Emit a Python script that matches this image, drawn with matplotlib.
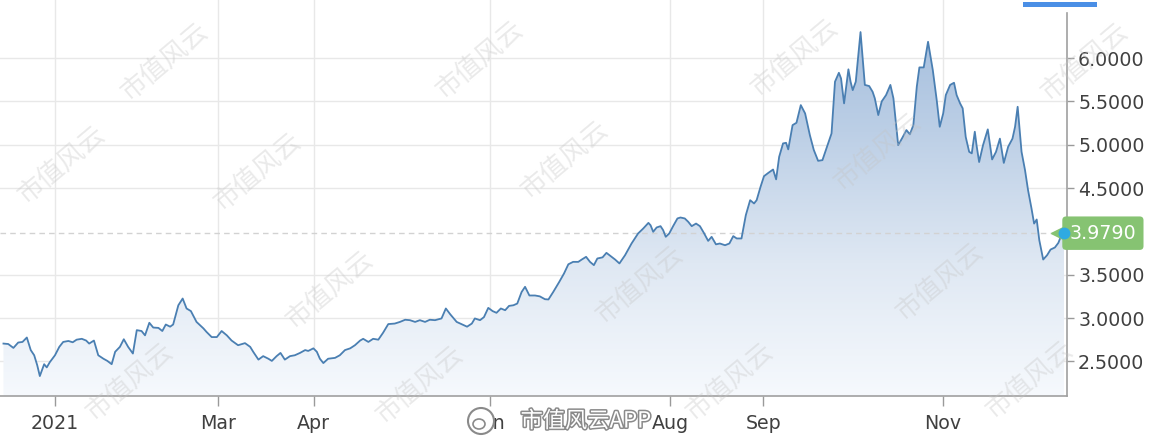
import numpy as np
import matplotlib
matplotlib.use('Agg')
import matplotlib.pyplot as plt
import matplotlib.patheffects as pe
from matplotlib.patches import Rectangle, Ellipse
from matplotlib.colors import LinearSegmentedColormap

# trading-session position of each price point
sessions = [0.8, 1.9, 3.1, 4.2, 5.2, 6.2, 7.1, 7.9, 8.6, 9.2, 10.2, 10.8, 11.5, 12.7, 13.7, 14.6,
            15.8, 16.8, 17.7, 18.9, 19.9, 20.6, 21.7, 22.7, 23.9, 24.8, 25.8, 26.6, 27.7, 28.6,
            29.6, 30.7, 31.6, 32.7, 33.5, 34.5, 35.4, 36.6, 37.5, 38.3, 39.3, 40.0, 41.2, 42.2,
            43.1, 44.1, 45.4, 47.0, 47.7, 48.9, 50.1, 51.2, 52.4, 53.5, 55.0, 56.6, 57.8, 58.5,
            59.7, 60.8, 62.0, 62.8, 63.9, 64.8, 65.8, 67.0, 68.1, 69.3, 70.5, 71.2, 72.4, 73.2,
            73.9, 74.7, 75.8, 77.4, 78.5, 79.7, 80.9, 82.0, 83.2, 83.9, 85.1, 86.2, 87.4, 88.5,
            89.7, 91.2, 92.4, 93.6, 94.7, 95.9, 97.0, 98.2, 99.3, 100.5, 102.0, 103.0, 104.0,
            105.5, 106.6, 107.9, 109.0, 109.7, 110.9, 111.8, 112.8, 113.8, 114.7, 115.7, 116.7,
            117.6, 118.6, 119.5, 120.5, 121.3, 122.3, 123.6, 124.7, 125.9, 126.7, 127.8, 129.2,
            130.3, 131.3, 132.4, 133.6, 134.4, 135.4, 136.3, 137.2, 138.0, 139.2, 140.1, 141.3,
            142.1, 143.1, 144.4, 145.9, 147.4, 148.6, 149.8, 150.3, 150.9, 151.7, 152.6, 153.2,
            153.8, 154.6, 155.5, 156.5, 157.2, 158.2, 159.0, 159.8, 160.8, 161.7, 162.6, 163.6,
            164.4, 165.4, 166.3, 167.5, 168.5, 169.4, 170.2, 171.3, 172.3, 173.3, 174.2, 174.8,
            175.7, 176.5, 177.5, 178.6, 179.3, 180.0, 180.9, 181.6, 182.1, 183.1, 184.0, 185.0,
            186.0, 187.1, 188.0, 189.0, 190.0, 191.1, 192.1, 192.9, 193.8, 194.3, 195.0, 196.0,
            196.5, 197.0, 197.7, 198.8, 199.8, 200.8, 201.6, 202.1, 202.9, 203.7, 204.7, 205.7,
            206.4, 207.5, 208.5, 209.4, 210.2, 211.0, 211.8, 212.4, 213.4, 214.4, 215.5, 216.4,
            217.1, 217.9, 218.5, 219.5, 220.4, 221.0, 221.8, 222.4, 223.1, 223.9, 224.5, 225.2,
            225.6, 226.2, 227.1, 228.2, 229.2, 230.1, 231.0, 231.9, 232.9, 233.9, 234.5, 235.1,
            236.0, 236.8, 237.5, 238.3, 238.9, 239.5, 240.1, 241.0, 241.9, 242.7, 243.7, 244.5,
            245.2, 245.8]

prices = [2.705, 2.70, 2.655, 2.717, 2.724, 2.775, 2.63, 2.57, 2.455, 2.33, 2.467, 2.43, 2.49,
          2.57, 2.667, 2.724, 2.735, 2.72, 2.75, 2.76, 2.74, 2.705, 2.74, 2.57, 2.53, 2.505,
          2.467, 2.61, 2.667, 2.755, 2.667, 2.59, 2.86, 2.85, 2.80, 2.945, 2.89, 2.886, 2.85,
          2.925, 2.90, 2.925, 3.147, 3.225, 3.11, 3.08, 2.955, 2.88, 2.84, 2.78, 2.78, 2.85,
          2.80, 2.74, 2.686, 2.71, 2.667, 2.61, 2.52, 2.56, 2.53, 2.505, 2.56, 2.597, 2.52,
          2.56, 2.57, 2.597, 2.63, 2.62, 2.65, 2.61, 2.53, 2.48, 2.53, 2.54, 2.57, 2.63, 2.65,
          2.686, 2.74, 2.76, 2.724, 2.76, 2.75, 2.83, 2.93, 2.936, 2.955, 2.98, 2.975, 2.955,
          2.975, 2.955, 2.98, 2.975, 2.995, 3.11, 3.044, 2.955, 2.93, 2.90, 2.936, 2.995,
          2.975, 3.01, 3.117, 3.08, 3.06, 3.11, 3.09, 3.14, 3.147, 3.167, 3.30, 3.36, 3.26,
          3.26, 3.25, 3.217, 3.214, 3.30, 3.417, 3.514, 3.62, 3.648, 3.648, 3.675, 3.706,
          3.648, 3.61, 3.687, 3.70, 3.752, 3.706, 3.675, 3.63, 3.725, 3.86, 3.975, 4.033,
          4.098, 4.07, 3.995, 4.045, 4.06, 4.014, 3.937, 3.975, 4.06, 4.149, 4.16, 4.149,
          4.11, 4.06, 4.09, 4.06, 3.983, 3.89, 3.937, 3.85, 3.86, 3.84, 3.86, 3.945, 3.918,
          3.918, 4.187, 4.36, 4.322, 4.36, 4.514, 4.637, 4.675, 4.714, 4.60, 4.86, 5.015,
          5.022, 4.946, 5.226, 5.253, 5.457, 5.361, 5.11, 4.94, 4.814, 4.822, 4.984, 5.13,
          5.727, 5.83, 5.765, 5.477, 5.87, 5.727, 5.63, 5.727, 6.30, 5.69, 5.677, 5.61, 5.535,
          5.342, 5.50, 5.573, 5.69, 5.535, 4.995, 5.084, 5.169, 5.12, 5.226, 5.67, 5.892,
          5.892, 6.188, 5.86, 5.515, 5.207, 5.361, 5.573, 5.69, 5.715, 5.573, 5.477, 5.42,
          5.09, 4.918, 4.90, 5.15, 4.995, 4.80, 4.995, 5.177, 4.83, 4.918, 5.07, 4.79, 4.976,
          5.07, 5.207, 5.438, 4.918, 4.707, 4.476, 4.264, 4.09, 4.137, 3.898, 3.675, 3.725,
          3.79, 3.814, 3.867, 3.956, 3.979]

last_price = 3.979
y_ticks = [2.5, 3.0, 3.5, 4.5, 5.0, 5.5, 6.0]
x_tick_labels = ['2021', 'Mar', 'Apr', 'Jun', 'Aug', 'Sep', 'Nov']
x_tick_sessions = [12.7, 50.4, 72.5, 113.2, 154.8, 176.3, 217.8]
watermark_text = '市值风云'
brand_text = '市值风云APP'

W, H = 1153, 444
cjk = ['Noto Sans CJK SC', 'DejaVu Sans']

fig = plt.figure(figsize=(W / 100, H / 100), dpi=100)
fig.patch.set_facecolor('white')
ax = fig.add_axes([0, 1 - 396 / H, 1067 / W, 396 / H])
x_lo, x_hi = 0, 246.5
y_lo, y_hi = 2.1, 6.67
ax.set_xlim(x_lo, x_hi)
ax.set_ylim(y_lo, y_hi)

# gradient area fill
grad = np.linspace(0, 1, 256).reshape(-1, 1)
cmap = LinearSegmentedColormap.from_list('g', ['#f6f9fd', '#dfe8f3', '#bccfe6', '#9fbadb'])
im = ax.imshow(grad, extent=[x_lo, x_hi, y_lo, y_hi], origin='lower', aspect='auto',
               cmap=cmap, zorder=1, interpolation='bilinear')
poly = ax.fill_between(sessions, prices, y_lo, color='none', lw=0)
im.set_clip_path(poly.get_paths()[0], transform=ax.transData)

ax.plot(sessions, prices, color='#4a7fb2', lw=1.3, zorder=3, solid_joinstyle='round')
ax.axhline(last_price, color='#d2d2d2', lw=1, ls=(0, (4, 3)), zorder=2)

# axes styling
ax.set_yticks(y_ticks)
ax.set_yticklabels([f'{v:.4f}' for v in y_ticks])
ax.set_xticks(x_tick_sessions)
ax.set_xticklabels(x_tick_labels)
ax.grid(True, color='#e8e8e8', lw=1, zorder=0)
ax.set_axisbelow(True)
ax.yaxis.tick_right()
ax.tick_params(axis='y', length=5, width=1, color='#9a9a9a', labelsize=13.7,
               labelcolor='#404040', pad=3)
ax.tick_params(axis='x', length=7, width=1, color='#9a9a9a', labelsize=13.7,
               labelcolor='#404040', pad=6)
for s in ['top', 'left']:
    ax.spines[s].set_visible(False)
for s in ['right', 'bottom']:
    ax.spines[s].set_color('#a0a0a0')
    ax.spines[s].set_linewidth(1.2)
ax.spines['right'].set_bounds(y_lo, 6.52)

# current price tag
green = '#86c372'
ax.plot(sessions[-1], last_price, marker='<', ms=19, color=green, mec=green,
        clip_on=False, zorder=8)
ax.annotate(f'{last_price:.4f}', xy=(sessions[-1], last_price), xytext=(4, 0),
            textcoords='offset points', ha='left', va='center', fontsize=13.7,
            color='white', annotation_clip=False, zorder=9,
            bbox=dict(boxstyle='round,pad=0.38,rounding_size=0.2', fc=green, ec='none'))
ax.plot(sessions[-1], last_price, 'o', ms=7.5, color='#2eaae2', mec='#2eaae2',
        clip_on=False, zorder=10)

# top-right range indicator
fig.add_artist(Rectangle((1023 / W, 1 - 7 / H), 74 / W, 5 / H, transform=fig.transFigure,
                         color='#4a8fe6', lw=0))

# watermarks
marks = [(165, 62), (480, 60), (795, 58), (1085, 62),
         (62, 165), (258, 172), (565, 160), (878, 152),
         (330, 290), (640, 285), (940, 282),
         (130, 382), (420, 385), (730, 382), (1030, 380)]
for cx, cy in marks:
    fig.text(cx / W, 1 - cy / H, watermark_text, rotation=40, fontsize=19,
             color='#c4c4c4', alpha=0.35, ha='center', va='center', family=cjk,
             zorder=20)

# weibo brand mark
fig.add_artist(Ellipse((481 / W, 1 - 421 / H), 26 / W, 26 / H, transform=fig.transFigure,
                       fc='white', ec='#8a8a8a', lw=1.5, zorder=21))
fig.add_artist(Ellipse((479 / W, 1 - 424 / H), 12 / W, 10 / H, transform=fig.transFigure,
                       fc='white', ec='#8a8a8a', lw=1.2, zorder=22))
fig.text(586 / W, 1 - 421 / H, brand_text, fontsize=16, color='white', ha='center',
         va='center', family=cjk, zorder=22,
         path_effects=[pe.withStroke(linewidth=2.2, foreground='#8a8a8a')])

fig.savefig('out.png', dpi=100, facecolor='white')
